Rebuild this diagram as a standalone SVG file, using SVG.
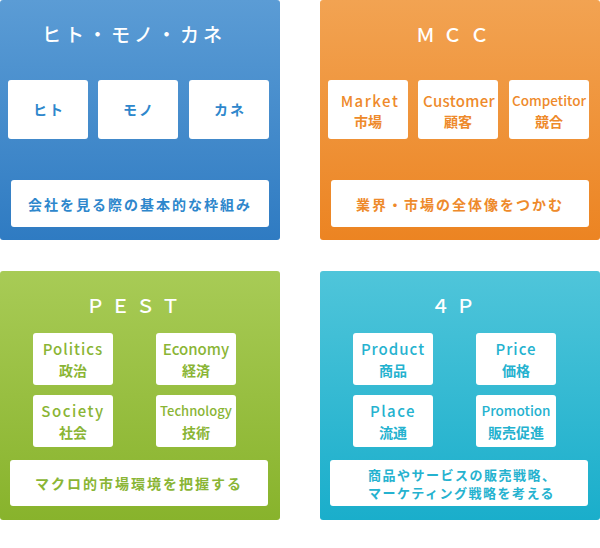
<svg xmlns="http://www.w3.org/2000/svg" width="600" height="548" viewBox="0 0 600 548">
<defs>
<linearGradient id="gBlue" x1="0" y1="0" x2="0" y2="1"><stop offset="0" stop-color="#5b9cd5"/><stop offset="1" stop-color="#2f7bc2"/></linearGradient>
<linearGradient id="gOrange" x1="0" y1="0" x2="0" y2="1"><stop offset="0" stop-color="#f2a352"/><stop offset="1" stop-color="#ec8422"/></linearGradient>
<linearGradient id="gGreen" x1="0" y1="0" x2="0" y2="1"><stop offset="0" stop-color="#a8cb56"/><stop offset="1" stop-color="#88b32c"/></linearGradient>
<linearGradient id="gCyan" x1="0" y1="0" x2="0" y2="1"><stop offset="0" stop-color="#4fc5da"/><stop offset="1" stop-color="#1aaecb"/></linearGradient>
<style>
text{font-family:"Noto Sans CJK JP","Noto Sans",sans-serif;}
.title{fill:#fff;font-size:19px;font-weight:500;}
.box{fill:#fff;}
.t{font-weight:700;font-size:14px;text-anchor:middle;}
.l{font-weight:500;font-size:15px;text-anchor:middle;}
.b{fill:#2e87cc}.o{fill:#ee8a2b}.g{fill:#8ab535}.c{fill:#25b2cf}
.foot{font-weight:700;font-size:14px;letter-spacing:2px;}
</style>
</defs>

<g id="hito-mono-kane">
<rect x="0" y="0" width="280" height="240" rx="3" fill="url(#gBlue)"/>
<text class="title" x="42" y="42" style="letter-spacing:4px">ヒト・モノ・カネ</text>
<rect class="box" x="8" y="80" width="80" height="59" rx="3"/>
<rect class="box" x="98" y="80" width="80" height="59" rx="3"/>
<rect class="box" x="189" y="80" width="80" height="59" rx="3"/>
<text class="t b" x="49" y="115" style="letter-spacing:2px">ヒト</text>
<text class="t b" x="139" y="115" style="letter-spacing:2px">モノ</text>
<text class="t b" x="230" y="115" style="letter-spacing:2px">カネ</text>
<rect class="box" x="11" y="180" width="258" height="47" rx="3"/>
<text class="foot b" x="28" y="210">会社を見る際の基本的な枠組み</text>
</g>

<g id="mcc">
<rect x="320" y="0" width="280" height="240" rx="3" fill="url(#gOrange)"/>
<text class="title" x="416" y="42" style="letter-spacing:8px">ＭＣＣ</text>
<rect class="box" x="328" y="80" width="80" height="59" rx="3"/>
<rect class="box" x="418" y="80" width="80" height="59" rx="3"/>
<rect class="box" x="509" y="80" width="80" height="59" rx="3"/>
<text class="l o" x="370" y="107" style="letter-spacing:1.5px">Market</text>
<text class="t o" x="368" y="127">市場</text>
<text class="l o" x="459" y="107" style="letter-spacing:0.3px">Customer</text>
<text class="t o" x="458" y="127">顧客</text>
<text class="l o" x="549" y="106" style="font-size:13.5px">Competitor</text>
<text class="t o" x="549" y="127">競合</text>
<rect class="box" x="331" y="180" width="258" height="47" rx="3"/>
<text class="foot o" x="356" y="210">業界・市場の全体像をつかむ</text>
</g>

<g id="pest">
<rect x="0" y="271" width="280" height="249" rx="3" fill="url(#gGreen)"/>
<text class="title" x="86" y="313" style="letter-spacing:6px">ＰＥＳＴ</text>
<rect class="box" x="33" y="333" width="80" height="52" rx="3"/>
<rect class="box" x="156" y="333" width="80" height="52" rx="3"/>
<rect class="box" x="33" y="395" width="80" height="52" rx="3"/>
<rect class="box" x="156" y="395" width="80" height="52" rx="3"/>
<text class="l g" x="73" y="355" style="letter-spacing:1px">Politics</text>
<text class="t g" x="73" y="376">政治</text>
<text class="l g" x="196" y="355">Economy</text>
<text class="t g" x="196" y="376">経済</text>
<text class="l g" x="73" y="417" style="letter-spacing:1.5px">Society</text>
<text class="t g" x="73" y="438">社会</text>
<text class="l g" x="196" y="416" style="font-size:13px">Technology</text>
<text class="t g" x="196" y="438">技術</text>
<rect class="box" x="10" y="460" width="258" height="46" rx="3"/>
<text class="foot g" x="35" y="489">マクロ的市場環境を把握する</text>
</g>

<g id="fourp">
<rect x="320" y="271" width="280" height="249" rx="3" fill="url(#gCyan)"/>
<text class="title" x="431" y="313" style="letter-spacing:6px">４Ｐ</text>
<rect class="box" x="353" y="333" width="80" height="52" rx="3"/>
<rect class="box" x="476" y="333" width="80" height="52" rx="3"/>
<rect class="box" x="353" y="395" width="80" height="52" rx="3"/>
<rect class="box" x="476" y="395" width="80" height="52" rx="3"/>
<text class="l c" x="393" y="355" style="letter-spacing:1px">Product</text>
<text class="t c" x="393" y="376">商品</text>
<text class="l c" x="516" y="355" style="letter-spacing:1px">Price</text>
<text class="t c" x="516" y="376">価格</text>
<text class="l c" x="393" y="417" style="letter-spacing:1.5px">Place</text>
<text class="t c" x="393" y="438">流通</text>
<text class="l c" x="516" y="416" style="font-size:13.5px">Promotion</text>
<text class="t c" x="516" y="438">販売促進</text>
<rect class="box" x="330" y="460" width="258" height="46" rx="3"/>
<text class="foot c" x="368" y="480" style="font-size:13px;letter-spacing:1.5px">商品やサービスの販売戦略、</text>
<text class="foot c" x="368" y="498" style="font-size:13px;letter-spacing:1.5px">マーケティング戦略を考える</text>
</g>
</svg>
